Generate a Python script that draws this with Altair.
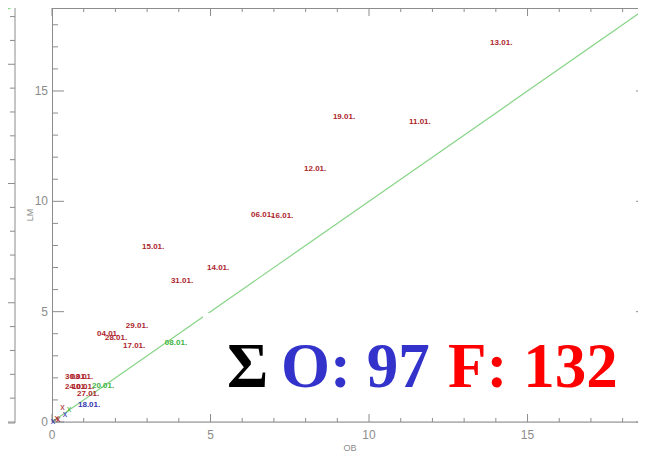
import altair as alt
import pandas as pd

# ---- data ----
date_labels = ["13.01.", "11.01.", "19.01.", "12.01.", "06.01.", "16.01.", "15.01.",
               "31.01.", "14.01.", "29.01.", "04.01.", "28.01.", "17.01.", "08.01.",
               "30.01.", "03.01.", "24.01.", "10.01.", "20.01.", "27.01.", "18.01."]
date_x = [13.82, 11.26, 8.86, 7.95, 6.28, 6.91, 2.84,
          3.75, 4.89, 2.33, 1.42, 1.67, 2.24, 3.56,
          0.41, 0.60, 0.41, 0.63, 1.26, 0.79, 0.82]
date_y = [17.08, 13.50, 13.73, 11.37, 9.29, 9.24, 7.84,
          6.30, 6.89, 4.26, 3.90, 3.72, 3.35, 3.49,
          1.95, 1.95, 1.50, 1.50, 1.54, 1.18, 0.68]
date_group = ["F", "F", "F", "F", "F", "F", "F",
              "F", "F", "F", "F", "F", "F", "G",
              "F", "F", "F", "F", "G", "F", "O"]

marker_x = [0.33, 0.54, 0.41, 0.15, 0.20, 0.03]
marker_y = [0.69, 0.59, 0.36, 0.18, 0.14, 0.05]
marker_group = ["F", "G", "O", "F", "F", "O"]

diag = [0.0, 18.8]

x_major = [0, 5, 10, 15]
x_major_text = ["0", "5", "10", "15"]
x_minor = [1, 2, 3, 4, 6, 7, 8, 9, 11, 12, 13, 14, 16, 17, 18]
y_major = [0, 5, 10, 15]
y_major_text = ["0", "5", "10", "15"]
y_minor = [1, 2, 3, 4, 6, 7, 8, 9, 11, 12, 13, 14, 16, 17, 18]
x_title = "OB"
y_title = "LM"

left_major = [0, 5, 10, 15]
left_minor = [1, 2, 3, 4, 6, 7, 8, 9, 11, 12, 13, 14, 16, 17]

sum_parts = ["Σ", "O: 97", "F: 132"]
sum_groups = ["S", "O", "F"]

# ---- chart ----
W, H = 586, 414          # drawn area inside the page
FULL_W = 596             # the plot continues past the page's right edge
xs = alt.Scale(domain=[0, 18.8], range=[0, FULL_W], nice=False, zero=False)
ys = alt.Scale(domain=[0, 18.76], nice=False, zero=False)
ls = alt.Scale(domain=[0, 17.36], nice=False, zero=False)

grp_scale = alt.Scale(domain=["F", "G", "O"], range=["#ad1f2c", "#3cb43c", "#3535b0"])
sum_scale = alt.Scale(domain=["S", "O", "F"], range=["#000000", "#3333cc", "#ff0000"])

GRAY = "#8c8c8c"
GREEN = "#86d486"

labels_df = pd.DataFrame({"x": date_x, "y": date_y, "t": date_labels, "g": date_group})
markers_df = pd.DataFrame({"x": marker_x, "y": marker_y, "g": marker_group})
diag_df = pd.DataFrame({"x": diag, "y": diag})
one = pd.DataFrame({"a": [0]})

X = lambda f: alt.X(f, scale=xs, axis=None)
Y = lambda f: alt.Y(f, scale=ys, axis=None)

line = alt.Chart(diag_df).mark_line(color=GREEN, strokeWidth=1.2).encode(
    x=X("x:Q"), y=Y("y:Q"))

def xticks(vals, length):
    df = pd.DataFrame({"v": vals})
    bot = alt.Chart(df).mark_rule(color=GRAY).encode(
        x=X("v:Q"), y=alt.value(H), y2=alt.value(H - length))
    top = alt.Chart(df).mark_rule(color=GRAY).encode(
        x=X("v:Q"), y=alt.value(0), y2=alt.value(length))
    return [bot, top]

def yticks(vals, length):
    df = pd.DataFrame({"v": vals})
    lft = alt.Chart(df).mark_rule(color=GRAY).encode(
        y=Y("v:Q"), x=alt.value(0), x2=alt.value(length))
    rgt = alt.Chart(df).mark_rule(color=GRAY).encode(
        y=Y("v:Q"), x=alt.value(FULL_W), x2=alt.value(FULL_W - length))
    return [lft, rgt]

tick_layers = xticks(x_major, 8) + xticks(x_minor, 4) + yticks(y_major, 12) + yticks(y_minor, 6)

frame_left = alt.Chart(one).mark_rule(color=GRAY).encode(
    x=alt.value(0.5), y=alt.value(0), y2=alt.value(H))
frame_top = alt.Chart(one).mark_rule(color=GRAY).encode(
    x=alt.value(0), x2=alt.value(W), y=alt.value(0.5))
frame_bot = alt.Chart(one).mark_rule(color=GRAY).encode(
    x=alt.value(0), x2=alt.value(W), y=alt.value(H))

xlab = alt.Chart(pd.DataFrame({"v": x_major, "t": x_major_text})).mark_text(
    font="Liberation Sans", fontSize=12, color=GRAY, baseline="middle").encode(
    x=X("v:Q"), y=alt.value(H + 13), text="t:N")
ylab = alt.Chart(pd.DataFrame({"v": y_major, "t": y_major_text})).mark_text(
    font="Liberation Sans", fontSize=12, color=GRAY, align="right", baseline="middle").encode(
    y=Y("v:Q"), x=alt.value(-4), text="t:N")
xtit = alt.Chart(pd.DataFrame({"t": [x_title]})).mark_text(
    font="Liberation Sans", fontSize=9, color=GRAY, baseline="middle").encode(
    x=alt.value(FULL_W / 2), y=alt.value(H + 26), text="t:N")
ytit = alt.Chart(pd.DataFrame({"t": [y_title]})).mark_text(
    font="Liberation Sans", fontSize=9, color=GRAY, baseline="middle", angle=270).encode(
    x=alt.value(-22), y=alt.value(H / 2), text="t:N")

# neighbouring panel's right edge (partially visible on the far left)
left_maj = alt.Chart(pd.DataFrame({"v": left_major})).mark_rule(color=GRAY).encode(
    y=alt.Y("v:Q", scale=ls, axis=None), x=alt.value(-52), x2=alt.value(-37))
left_min = alt.Chart(pd.DataFrame({"v": left_minor})).mark_rule(color=GRAY).encode(
    y=alt.Y("v:Q", scale=ls, axis=None), x=alt.value(-42), x2=alt.value(-37))
left_edge = alt.Chart(one).mark_rule(color=GRAY).encode(
    x=alt.value(-37), y=alt.value(0), y2=alt.value(H + 1))
left_base = alt.Chart(one).mark_rule(color=GRAY).encode(
    x=alt.value(-52), x2=alt.value(-37), y=alt.value(H + 1))
left_green = alt.Chart(one).mark_rule(color=GREEN, strokeWidth=1.2).encode(
    x=alt.value(-44), x2=alt.value(-37), y=alt.value(1), y2=alt.value(-2))

texts = alt.Chart(labels_df).mark_text(
    align="left", baseline="alphabetic", font="Liberation Sans", fontSize=8,
    fontWeight="bold").encode(
    x=X("x:Q"), y=Y("y:Q"), text="t:N",
    color=alt.Color("g:N", scale=grp_scale, legend=None),
)

marks = alt.Chart(markers_df).mark_text(
    align="center", baseline="middle", font="Liberation Sans", fontSize=9).encode(
    x=X("x:Q"), y=Y("y:Q"), text=alt.value("x"),
    color=alt.Color("g:N", scale=grp_scale, legend=None),
)

box = alt.Chart(one).mark_rect(fill="white").encode(
    x=alt.value(151), x2=alt.value(590), y=alt.value(305), y2=alt.value(405))

sum_x = [175, 229, 396]
sum_layers = []
for part, grp, px in zip(sum_parts, sum_groups, sum_x):
    df = pd.DataFrame({"t": [part], "g": [grp]})
    sum_layers.append(
        alt.Chart(df).mark_text(align="left", baseline="alphabetic",
                                font="Liberation Serif", fontSize=63,
                                fontWeight="bold").encode(
            x=alt.value(px), y=alt.value(379), text="t:N",
            color=alt.Color("g:N", scale=sum_scale, legend=None))
    )

chart = alt.layer(
    line, *tick_layers, frame_left, frame_top, frame_bot, xlab, ylab, xtit, ytit,
    left_maj, left_min, left_edge, left_base, left_green,
    texts, marks, box, *sum_layers
).resolve_scale(y="independent", color="independent").properties(
    width=W, height=H,
    autosize=alt.AutoSizeParams(type="none"),
    padding={"left": 44, "top": 0, "right": 0, "bottom": 50},
).configure_view(stroke=None).configure(background="white")

chart.save("out.html", embed_options={"renderer": "svg", "actions": False})
